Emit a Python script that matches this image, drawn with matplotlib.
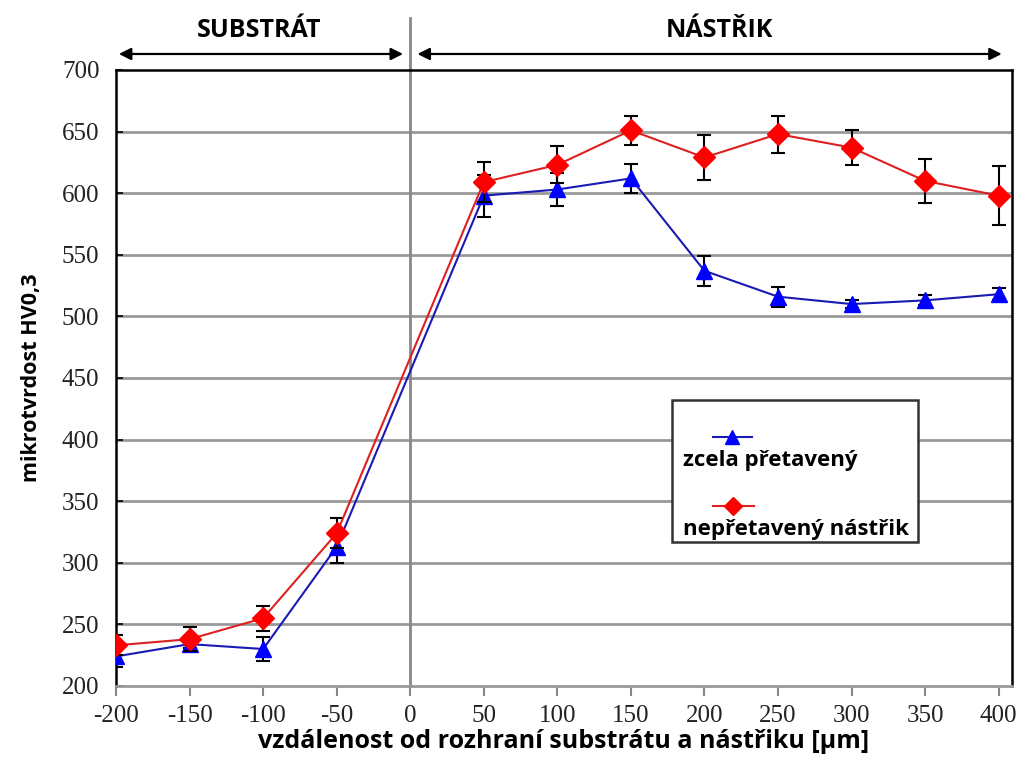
import matplotlib
matplotlib.use("Agg")
import matplotlib.pyplot as plt
from matplotlib.patches import Rectangle
from matplotlib.lines import Line2D

plt.rcParams['axes.unicode_minus'] = False

# vzdálenost od rozhraní [µm]
x = [-200, -150, -100, -50, 50, 100, 150, 200, 250, 300, 350, 400]

# zcela přetavený
hv_pretaveny = [224, 234, 230, 313, 598, 603, 612, 537, 516, 510, 513, 518]
err_pretaveny = [9, 3, 10, 13, 17, 13, 12, 12, 8, 3, 4, 5]

# nepřetavený nástřik
hv_nepretaveny = [233, 238, 255, 324, 609, 623, 651, 629, 648, 637, 610, 598]
err_nepretaveny = [8, 10, 10, 12, 16, 15, 12, 18, 15, 14, 18, 24]

x_ticks = [-200, -150, -100, -50, 0, 50, 100, 150, 200, 250, 300, 350, 400]
y_ticks = [200, 250, 300, 350, 400, 450, 500, 550, 600, 650, 700]

bold_font = ['Open Sans', 'DejaVu Sans']
serif_font = ['Liberation Serif', 'DejaVu Serif']

fig = plt.figure(figsize=(10.18, 7.6), dpi=100)
ax = fig.add_axes([0.114, 0.0974, 0.880, 0.8105])

ax.set_xlim(-200, 409)
ax.set_ylim(200, 700)

# mřížka
for yv in y_ticks[1:-1]:
    ax.axhline(yv, color='#999999', lw=2, zorder=1)
ax.axvline(0, color='#888888', lw=2, zorder=1, ymin=0, ymax=1.085, clip_on=False)

ax.errorbar(x, hv_pretaveny, yerr=err_pretaveny, color='#1a1ab4', lw=1.5,
            marker='^', markersize=11, markerfacecolor='#0000ff', markeredgecolor='#0000ff',
            ecolor='black', elinewidth=1.5, capsize=5, capthick=1.5, zorder=3)
ax.errorbar(x, hv_nepretaveny, yerr=err_nepretaveny, color='#dd2020', lw=1.5,
            marker='D', markersize=11, markerfacecolor='#ff0000', markeredgecolor='#ff0000',
            ecolor='black', elinewidth=1.5, capsize=5, capthick=1.5, zorder=4)

ax.set_xticks(x_ticks)
ax.set_yticks(y_ticks)
ax.tick_params(axis='both', labelsize=18, labelfontfamily=serif_font, labelcolor='#222222')
ax.tick_params(axis='x', direction='out', length=7, width=1.5, color='#888888', pad=7)
ax.tick_params(axis='y', direction='in', length=5, width=1.2, color='black', pad=12)

for s in ['left', 'top', 'right']:
    ax.spines[s].set_color('black')
    ax.spines[s].set_linewidth(1.8)
ax.spines['bottom'].set_color('#999999')
ax.spines['bottom'].set_linewidth(2)

ax.set_xlabel('vzdálenost od rozhraní substrátu a nástřiku [µm]', family=bold_font,
              fontweight='bold', fontsize=18, labelpad=1)
ax.set_ylabel('mikrotvrdost HV0,3', family=bold_font, fontweight='bold', fontsize=15.5, labelpad=14)

# šipky nad grafem
ax.annotate('', xy=(-200, 713), xytext=(-3, 713), xycoords='data', annotation_clip=False,
            arrowprops=dict(arrowstyle='<|-|>', color='black', lw=1.6, mutation_scale=18))
ax.annotate('', xy=(3, 713), xytext=(404, 713), xycoords='data', annotation_clip=False,
            arrowprops=dict(arrowstyle='<|-|>', color='black', lw=1.6, mutation_scale=18))
ax.text(-103, 732, 'SUBSTRÁT', ha='center', va='center', family=bold_font,
        fontweight='bold', fontsize=18, clip_on=False)
ax.text(210, 732, 'NÁSTŘIK', ha='center', va='center', family=bold_font,
        fontweight='bold', fontsize=18, clip_on=False)

# legenda
tr = ax.transAxes
ax.add_patch(Rectangle((0.6205, 0.2338), 0.2746, 0.2305, transform=tr, facecolor='white',
                       edgecolor='#333333', lw=1.8, zorder=5))
ax.add_line(Line2D([0.666, 0.688, 0.710], [0.405, 0.405, 0.405], transform=tr, color='#1a1ab4',
                   lw=1.5, marker='^', markersize=10, markevery=[1], markerfacecolor='#0000ff',
                   markeredgecolor='#0000ff', zorder=6))
ax.add_line(Line2D([0.666, 0.689, 0.712], [0.292, 0.292, 0.292], transform=tr, color='#dd2020',
                   lw=1.5, marker='D', markersize=9, markevery=[1], markerfacecolor='#ff0000',
                   markeredgecolor='#ff0000', zorder=6))
ax.text(0.633, 0.366, 'zcela přetavený', transform=tr, family=bold_font, fontweight='bold',
        fontsize=16, va='center', ha='left', zorder=7)
ax.text(0.633, 0.254, 'nepřetavený nástřik', transform=tr, family=bold_font, fontweight='bold',
        fontsize=16, va='center', ha='left', zorder=7)

fig.savefig('out.png', dpi=100)
